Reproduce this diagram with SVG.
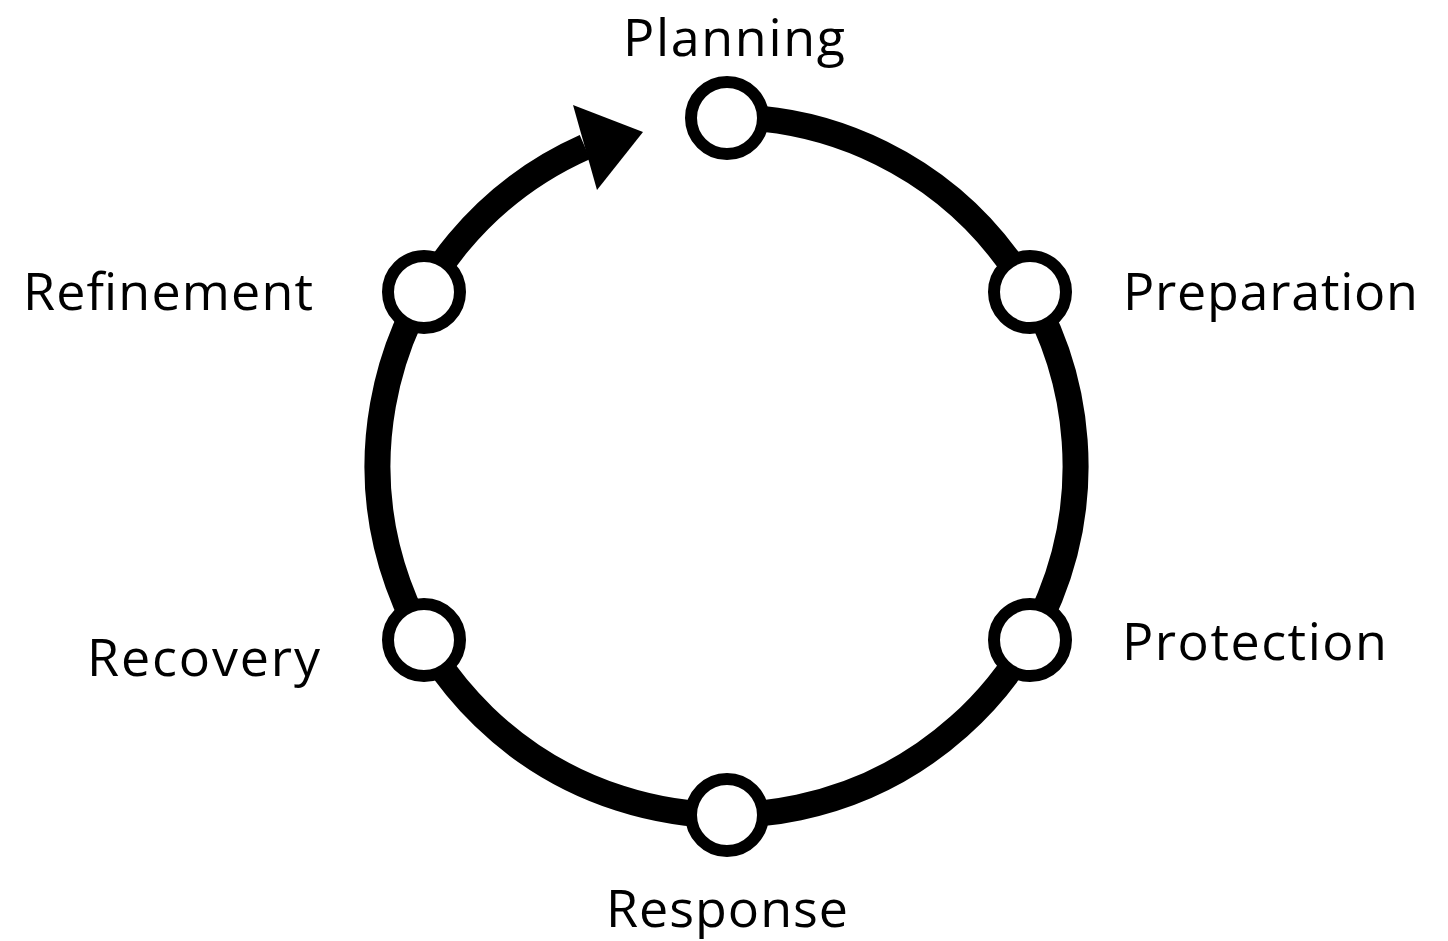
<svg xmlns="http://www.w3.org/2000/svg" width="1448" height="941" viewBox="0 0 1448 941">
<style>
.ring{fill:none;stroke:#000;stroke-width:26;}
.node{fill:#fff;stroke:#000;stroke-width:12;}
.lbl{font-family:"Open Sans","Noto Sans",sans-serif;font-size:52px;fill:#000;}
</style>
<rect width="1448" height="941" fill="#fff"/>
<g id="connectors">
<path class="ring" d="M727,117 A349,349 0 1 1 585,147"/>
<polygon points="573,105 643,132 597,190" fill="#000"/>
</g>
<g id="planning"><circle class="node" cx="727" cy="118" r="36"/><text class="lbl" x="623" y="56" textLength="222">Planning</text></g>
<g id="preparation"><circle class="node" cx="1030" cy="292" r="36"/><text class="lbl" x="1123" y="310" textLength="295">Preparation</text></g>
<g id="protection"><circle class="node" cx="1030" cy="640" r="36"/><text class="lbl" x="1122" y="660" textLength="265">Protection</text></g>
<g id="response"><circle class="node" cx="727" cy="815" r="36"/><text class="lbl" x="606" y="927" textLength="242">Response</text></g>
<g id="recovery"><circle class="node" cx="424" cy="640" r="36"/><text class="lbl" x="87" y="676" textLength="233">Recovery</text></g>
<g id="refinement"><circle class="node" cx="424" cy="292" r="36"/><text class="lbl" x="23" y="310" textLength="290">Refinement</text></g>
</svg>
